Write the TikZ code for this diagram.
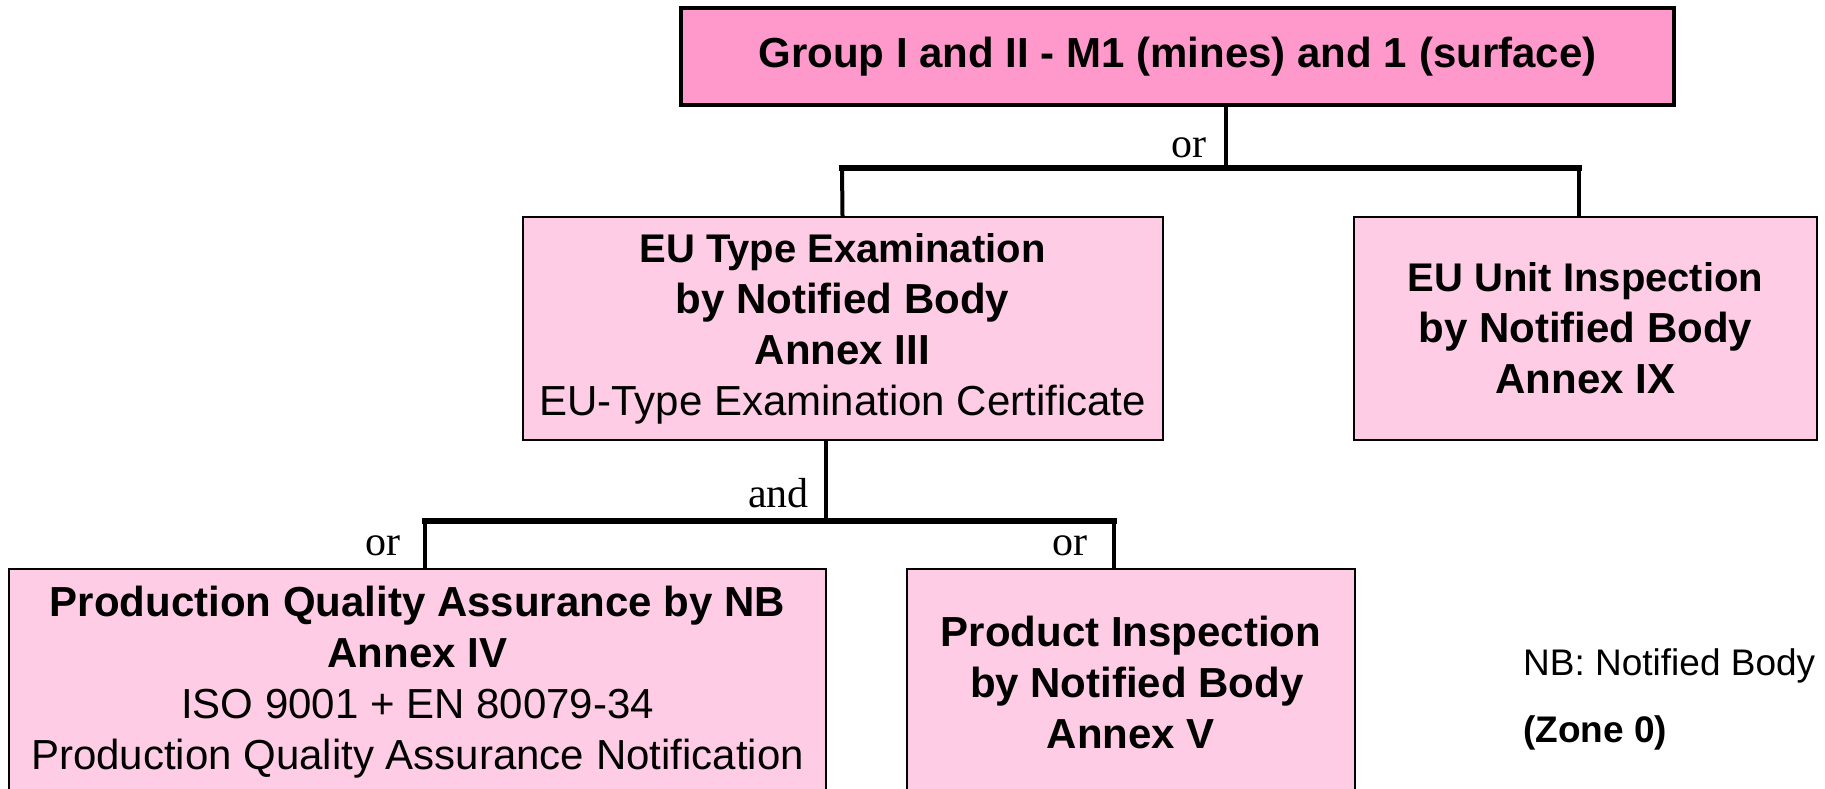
\documentclass[tikz,border=0pt]{standalone}
\usepackage{fontspec}
\setmainfont{Liberation Sans}
\newfontfamily\gatefont{Liberation Serif}
\usepackage{tikz}
\usetikzlibrary{calc}
\definecolor{groupPink}{RGB}{255,153,204}
\definecolor{modPink}{RGB}{255,204,229}

\begin{document}
\begin{tikzpicture}[x=1pt,y=-1pt,
toplevel/.style={rectangle,draw=black,line width=3.5pt,fill=groupPink,inner sep=0pt,font=\fontsize{42}{51}\selectfont\bfseries},
module/.style={rectangle,draw=black,line width=2pt,fill=modPink,inner sep=0pt,align=center,font=\fontsize{42}{51}\selectfont},
link/.style={line width=4pt},
bar/.style={line width=6pt,line cap=rect},
gate/.style={inner sep=0pt,font=\fontsize{42}{50}\gatefont},
note/.style={inner sep=0pt,anchor=base west,font=\fontsize{37}{45}\selectfont}]

\useasboundingbox (0,0) rectangle (1825,788);
\clip (0,0) rectangle (1825,788);

\node (GROUP) at (1177.5,56.5) [toplevel,minimum width=993pt,minimum height=97pt] {Group I and II - M1 (mines) and 1 (surface)};

\node (TYPEEXAM) at (842.5,328.5) [module,minimum width=640pt,minimum height=223pt] {
\fontsize{40}{51}\selectfont\textbf{EU Type Examination}\\
\textbf{by Notified Body}\\
\textbf{Annex III}\\
EU-Type Examination Certificate};

\node (UNITINSP) at (1585.5,328.5) [module,minimum width=463pt,minimum height=223pt] {
\fontsize{40}{51}\selectfont\textbf{EU Unit Inspection}\\
\textbf{by Notified Body}\\
\textbf{Annex IX}};

\node (PQA) at (417.5,682.5) [module,minimum width=817pt,minimum height=227pt] {
\textbf{Production Quality Assurance by NB}\\
\textbf{Annex IV}\\
ISO 9001 + EN 80079-34\\
Production Quality Assurance Notification};

\node (PRODINSP) at (1131,682.5) [module,minimum width=448pt,minimum height=227pt] {
\textbf{Product Inspection}\\
\textbf{ by Notified Body}\\
\textbf{Annex V}};

% upper tree
\coordinate (J1) at (1226,168);
\coordinate (B1L) at (842,168);
\coordinate (B1R) at (1579,168);
\draw[link] (GROUP.south -| J1) -- (J1);
\draw[link] (TYPEEXAM.north) -- (B1L);
\draw[link] (B1R) -- (B1R |- UNITINSP.north);
\draw[bar] (B1L) -- (B1R);
\node[gate,anchor=base east] (OR1) at (1207,157) {or};

% lower tree
\coordinate (J2) at (826,520.5);
\coordinate (B2L) at (425,520.5);
\coordinate (B2R) at (1114,520.5);
\draw[link] (TYPEEXAM.south -| J2) -- (J2);
\draw[link] (B2L) -- (B2L |- PQA.north);
\draw[link] (B2R) -- (B2R |- PRODINSP.north);
\draw[bar] (B2L) -- (B2R);
\node[gate,anchor=base east] (AND) at (809,507) {and};
\node[gate,anchor=base east] (OR2) at (401,555) {or};
\node[gate,anchor=base east] (OR3) at (1088,555) {or};

\node[note] (NBNOTE) at (1523,675) {NB: Notified Body};
\node[note,font=\fontsize{37}{45}\selectfont\bfseries] (ZONE) at (1523,742) {(Zone 0)};

\end{tikzpicture}
\end{document}
